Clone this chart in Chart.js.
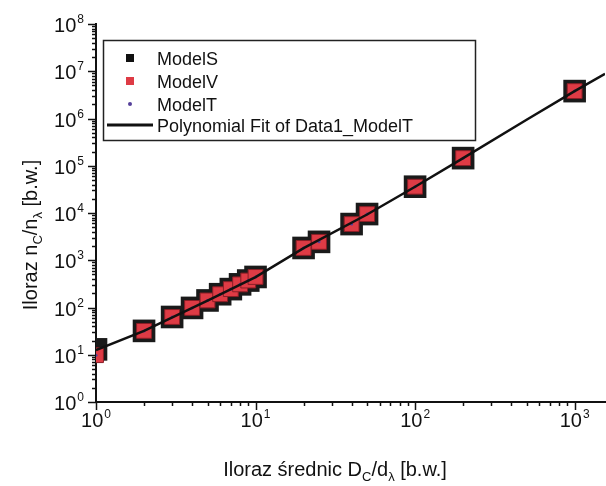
<!DOCTYPE html>
<html><head><meta charset="utf-8">
<script src="https://cdn.jsdelivr.net/npm/chart.js@4/dist/chart.umd.min.js"></script>
<style>html,body{margin:0;padding:0;background:#fff;overflow:hidden}#wrap{width:606px;height:486px;position:relative}</style>
</head><body><div id="wrap"><canvas id="c" width="606" height="486"></canvas></div>
<script>
// ---- data ----
const xValues = [1, 2, 3, 4, 5, 6, 7, 8, 9, 10, 20, 25, 40, 50, 100, 200, 1000];
const modelS  = [13, 32, 63, 98, 141, 191, 245, 309, 372, 443, 1820, 2450, 5830, 9500, 36000, 145000, 3800000];
const modelV  = [9.8, 32, 63, 98, 141, 191, 245, 309, 372, 443, 1820, 2450, 5830, 9500, 36000, 145000, 3800000];
const modelT  = [9.8, 32, 63, 98, 141, 191, 245, 309, 372, 443, 1820, 2450, 5830, 9500, 36000, 145000, 3800000];
const fitX    = [1, 2, 5, 10, 20, 50, 100, 200, 500, 1000, 1550];
const fitY    = [12.5, 32, 140, 440, 1800, 9300, 36000, 145000, 940000, 3800000, 8800000];
const seriesNames = ['ModelS', 'ModelV', 'ModelT', 'Polynomial Fit of Data1_ModelT'];
const xTickExponents = [0, 1, 2, 3];
const yTickExponents = [0, 1, 2, 3, 4, 5, 6, 7, 8];

const FONT = '"Liberation Sans", Arial, sans-serif';
const RED = '#de3b45';

function pts(xs, ys){ return xs.map((x,i)=>({x:x, y:ys[i]})); }

const overlay = {
  id: 'overlay',
  afterDraw(chart){
    const ctx = chart.ctx, xs = chart.scales.x, ys = chart.scales.y;
    const ca = chart.chartArea;
    ctx.save();
    ctx.strokeStyle = '#111'; ctx.lineWidth = 1.5;
    for (const k of yTickExponents){
      for (let m = 1; m <= 9; m++){
        const v = m * Math.pow(10, k);
        if (v > ys.max * 1.0001) break;
        const py = Math.round(ys.getPixelForValue(v)) + 0.5;
        const len = (m === 1) ? 8 : 4;
        ctx.beginPath(); ctx.moveTo(ca.left, py); ctx.lineTo(ca.left - len, py); ctx.stroke();
      }
    }
    for (const k of xTickExponents){
      for (let m = 1; m <= 9; m++){
        const v = m * Math.pow(10, k);
        if (v > xs.max) break;
        const px = Math.round(xs.getPixelForValue(v)) + 0.5;
        const len = (m === 1) ? 8 : 4;
        ctx.beginPath(); ctx.moveTo(px, ca.bottom); ctx.lineTo(px, ca.bottom + len); ctx.stroke();
      }
    }
    ctx.fillStyle = '#111';
    ctx.textBaseline = 'alphabetic'; ctx.textAlign = 'left';
    const big = '20px ' + FONT, small = '12px ' + FONT;
    function pow(k, x, yb, align){
      ctx.font = big; const w1 = ctx.measureText('10').width;
      ctx.font = small; const w2 = ctx.measureText(String(k)).width;
      const w = w1 + w2 + 1;
      const x0 = align === 'center' ? x - w/2 : x - w;
      ctx.font = big; ctx.fillText('10', x0, yb);
      ctx.font = small; ctx.fillText(String(k), x0 + w1 + 1, yb - 9);
    }
    for (const k of yTickExponents){
      const py = ys.getPixelForValue(Math.pow(10,k));
      pow(k, 84, py + 8, 'right');
    }
    for (const k of xTickExponents){
      const px = xs.getPixelForValue(Math.pow(10,k));
      pow(k, px, ca.bottom + 25, 'center');
    }
    function rich(parts, cx, yb){
      let w = 0;
      for (const p of parts){ ctx.font = (p.sub ? '13px ' : '20px ') + FONT; p.w = ctx.measureText(p.t).width; w += p.w; }
      let x = cx - w/2;
      for (const p of parts){ ctx.font = (p.sub ? '13px ' : '20px ') + FONT; ctx.fillText(p.t, x, yb + (p.sub ? 5 : 0)); x += p.w; }
    }
    rich([{t:'Iloraz średnic D'},{t:'C',sub:1},{t:'/d'},{t:'λ',sub:1},{t:' [b.w.]'}], 335, 476);
    ctx.save();
    ctx.translate(37, 235); ctx.rotate(-Math.PI/2);
    rich([{t:'Iloraz n'},{t:'C',sub:1},{t:'/n'},{t:'λ',sub:1},{t:' [b.w.]'}], 0, 0);
    ctx.restore();
    // legend
    ctx.fillStyle = '#fff';
    ctx.fillRect(103, 40, 372, 100);
    ctx.strokeStyle = '#222'; ctx.lineWidth = 1.5;
    ctx.strokeRect(103.5, 40.5, 372, 100);
    const rows = [58, 81, 104, 125];
    ctx.fillStyle = '#111'; ctx.fillRect(126, 54, 8, 8);
    ctx.fillStyle = RED; ctx.fillRect(126, 77, 8, 8);
    ctx.fillStyle = '#55409a'; ctx.beginPath(); ctx.arc(130, 104, 2, 0, Math.PI*2); ctx.fill();
    ctx.strokeStyle = '#111'; ctx.lineWidth = 3;
    ctx.beginPath(); ctx.moveTo(107, 125); ctx.lineTo(153, 125); ctx.stroke();
    ctx.fillStyle = '#111'; ctx.font = '18px ' + FONT;
    seriesNames.forEach((n,i)=> ctx.fillText(n, 157, rows[i] + 6.5));
    ctx.restore();
  }
};

new Chart(document.getElementById('c'), {
  type: 'scatter',
  data: {
    datasets: [
      { label: seriesNames[0], data: pts(xValues, modelS), order: 3, clip: 0,
        pointStyle: 'rect', pointRadius: 16, backgroundColor: '#1a1a1a', borderColor: '#1a1a1a', borderWidth: 0 },
      { label: seriesNames[1], data: pts(xValues, modelV), order: 2, clip: 0,
        pointStyle: 'rect', pointRadius: 10.5, backgroundColor: RED, borderColor: '#8a1e26', borderWidth: 1 },
      { label: seriesNames[2], data: pts(xValues, modelT), order: 1, clip: 0,
        pointStyle: 'circle', pointRadius: 1.5, backgroundColor: '#55409a', borderWidth: 0 },
      { label: seriesNames[3], data: pts(fitX, fitY), order: 0, clip: 0, showLine: true,
        pointRadius: 0, borderColor: '#111', borderWidth: 2.5, tension: 0 }
    ]
  },
  options: {
    responsive: false, animation: false, devicePixelRatio: 1,
    layout: { autoPadding: false, padding: { top: 24, right: 1, left: 0, bottom: 0 } },
    plugins: { legend: { display: false }, tooltip: { enabled: false } },
    scales: {
      x: { type: 'logarithmic', min: 1, max: 1550, offset: false,
           grid: { display: false, drawTicks: false },
           border: { display: true, color: '#111', width: 2 },
           ticks: { display: false },
           afterFit(s){ s.height = 84; s.paddingLeft = 0; s.paddingRight = 0; } },
      y: { type: 'logarithmic', min: 1, max: 1e8,
           grid: { display: false, drawTicks: false },
           border: { display: true, color: '#111', width: 2 },
           ticks: { display: false },
           afterFit(s){ s.width = 96; s.paddingTop = 0; s.paddingBottom = 0; } }
    }
  },
  plugins: [overlay]
});
</script>
</body></html>
